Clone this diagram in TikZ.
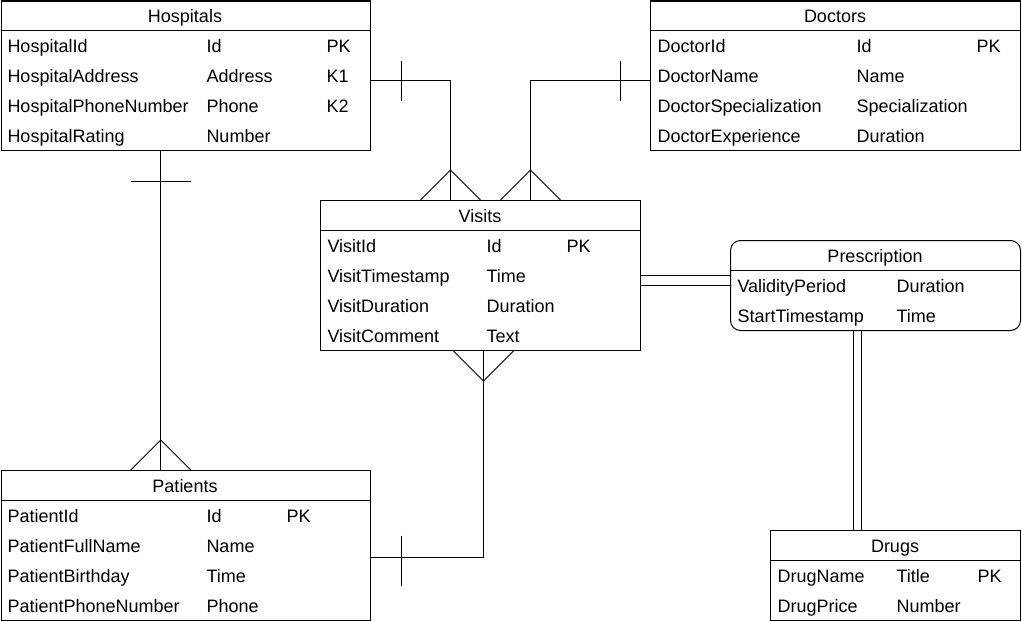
\documentclass[tikz,border=0pt]{standalone}
\usepackage{fontspec}
\setmainfont{Liberation Sans}
\begin{document}
\begin{tikzpicture}[
  x=0.5pt, y=-0.5pt,
  font=\fontsize{9pt}{11pt}\selectfont,
  line width=0.5pt,
  tablebox/.style={draw, inner sep=0, anchor=north west},
  title/.style={anchor=base, inner sep=0},
  field/.style={anchor=base west, inner sep=0}]
    \useasboundingbox (0,0) rectangle (1022,621);
    % Hospitals table
    \node[tablebox, minimum width=184.75pt, minimum height=74.75pt] (hosp) at (0.5,0.5) {};
    \draw ([yshift=-15pt]hosp.north west) -- ([yshift=-15pt]hosp.north east);
    \node[title] (hospT) at (185,22) {Hospitals};
    \node[field] (hosp1a) at (7,52) {HospitalId};
    \node[field] (hosp1b) at (206,52) {Id};
    \node[field] (hosp1c) at (326,52) {PK};
    \node[field] (hosp2a) at (7,82) {HospitalAddress};
    \node[field] (hosp2b) at (206,82) {Address};
    \node[field] (hosp2c) at (326,82) {K1};
    \node[field] (hosp3a) at (7,112) {HospitalPhoneNumber};
    \node[field] (hosp3b) at (206,112) {Phone};
    \node[field] (hosp3c) at (326,112) {K2};
    \node[field] (hosp4a) at (7,142) {HospitalRating};
    \node[field] (hosp4b) at (206,142) {Number};
    % Doctors table
    \node[tablebox, minimum width=185pt, minimum height=74.75pt] (doct) at (650,0.5) {};
    \draw ([yshift=-15pt]doct.north west) -- ([yshift=-15pt]doct.north east);
    \node[title] (doctT) at (835,22) {Doctors};
    \node[field] (doct1a) at (657,52) {DoctorId};
    \node[field] (doct1b) at (856,52) {Id};
    \node[field] (doct1c) at (976,52) {PK};
    \node[field] (doct2a) at (657,82) {DoctorName};
    \node[field] (doct2b) at (856,82) {Name};
    \node[field] (doct3a) at (657,112) {DoctorSpecialization};
    \node[field] (doct3b) at (856,112) {Specialization};
    \node[field] (doct4a) at (657,142) {DoctorExperience};
    \node[field] (doct4b) at (856,142) {Duration};
    % Visits table
    \node[tablebox, minimum width=160pt, minimum height=75pt] (visit) at (320,200) {};
    \draw ([yshift=-15pt]visit.north west) -- ([yshift=-15pt]visit.north east);
    \node[title] (visitT) at (480,222) {Visits};
    \node[field] (visit1a) at (327,252) {VisitId};
    \node[field] (visit1b) at (486,252) {Id};
    \node[field] (visit1c) at (566,252) {PK};
    \node[field] (visit2a) at (327,282) {VisitTimestamp};
    \node[field] (visit2b) at (486,282) {Time};
    \node[field] (visit3a) at (327,312) {VisitDuration};
    \node[field] (visit3b) at (486,312) {Duration};
    \node[field] (visit4a) at (327,342) {VisitComment};
    \node[field] (visit4b) at (486,342) {Text};
    % Prescription table (rounded)
    \node[tablebox, rounded corners=5pt, minimum width=145pt, minimum height=45pt] (presc) at (730,240) {};
    \draw ([yshift=-15pt]presc.north west) -- ([yshift=-15pt]presc.north east);
    \node[title] (prescT) at (875,262) {Prescription};
    \node[field] (presc1a) at (737,292) {ValidityPeriod};
    \node[field] (presc1b) at (896,292) {Duration};
    \node[field] (presc2a) at (737,322) {StartTimestamp};
    \node[field] (presc2b) at (896,322) {Time};
    % Patients table
    \node[tablebox, minimum width=184.75pt, minimum height=75pt] (pat) at (0.5,470) {};
    \draw ([yshift=-15pt]pat.north west) -- ([yshift=-15pt]pat.north east);
    \node[title] (patT) at (185,492) {Patients};
    \node[field] (pat1a) at (7,522) {PatientId};
    \node[field] (pat1b) at (206,522) {Id};
    \node[field] (pat1c) at (286,522) {PK};
    \node[field] (pat2a) at (7,552) {PatientFullName};
    \node[field] (pat2b) at (206,552) {Name};
    \node[field] (pat3a) at (7,582) {PatientBirthday};
    \node[field] (pat3b) at (206,582) {Time};
    \node[field] (pat4a) at (7,612) {PatientPhoneNumber};
    \node[field] (pat4b) at (206,612) {Phone};
    % Drugs table
    \node[tablebox, minimum width=125pt, minimum height=45pt] (drug) at (770,530) {};
    \draw ([yshift=-15pt]drug.north west) -- ([yshift=-15pt]drug.north east);
    \node[title] (drugT) at (895,552) {Drugs};
    \node[field] (drug1a) at (777,582) {DrugName};
    \node[field] (drug1b) at (896,582) {Title};
    \node[field] (drug1c) at (977,582) {PK};
    \node[field] (drug2a) at (777,612) {DrugPrice};
    \node[field] (drug2b) at (896,612) {Number};
    % Hospitals -- Visits (one to many)
    \draw ([yshift=-2.5pt]hosp.east) -| ([xshift=-15pt]visit.north);
    \draw ([shift={(15pt,7.5pt)}]hosp.east) -- ++(0,-20pt);
    \draw ([xshift=-30pt]visit.north) -- ++(15pt,15pt) -- ++(15pt,-15pt);
    % Doctors -- Visits (one to many)
    \draw ([yshift=-2.5pt]doct.west) -| ([xshift=25pt]visit.north);
    \draw ([shift={(-15pt,7.5pt)}]doct.west) -- ++(0,-20pt);
    \draw ([xshift=10pt]visit.north) -- ++(15pt,15pt) -- ++(15pt,-15pt);
    % Hospitals -- Patients (one to many)
    \draw ([xshift=-12.5pt]hosp.south) -- ([xshift=-12.5pt]pat.north);
    \draw ([shift={(-27.5pt,-15pt)}]hosp.south) -- ++(30pt,0);
    \draw ([xshift=-27.5pt]pat.north) -- ++(15pt,15pt) -- ++(15pt,-15pt);
    % Patients -- Visits (one to many)
    \draw ([xshift=1.5pt]visit.south) |- ([yshift=-6pt]pat.east);
    \draw ([shift={(15pt,5pt)}]pat.east) -- ++(0,-25pt);
    \draw ([xshift=-13.5pt]visit.south) -- ++(15pt,-15pt) -- ++(15pt,15pt);
    % Visits -- Prescription (double line)
    \draw (visit.east) -- (visit.east -| presc.west);
    \draw (presc.west -| visit.east) -- (presc.west);
    % Prescription -- Drugs (double line)
    \draw ([xshift=-11pt]presc.south) -- ([xshift=-11pt]presc.south |- drug.north);
    \draw ([xshift=-7pt]presc.south) -- ([xshift=-7pt]presc.south |- drug.north);
\end{tikzpicture}
\end{document}
